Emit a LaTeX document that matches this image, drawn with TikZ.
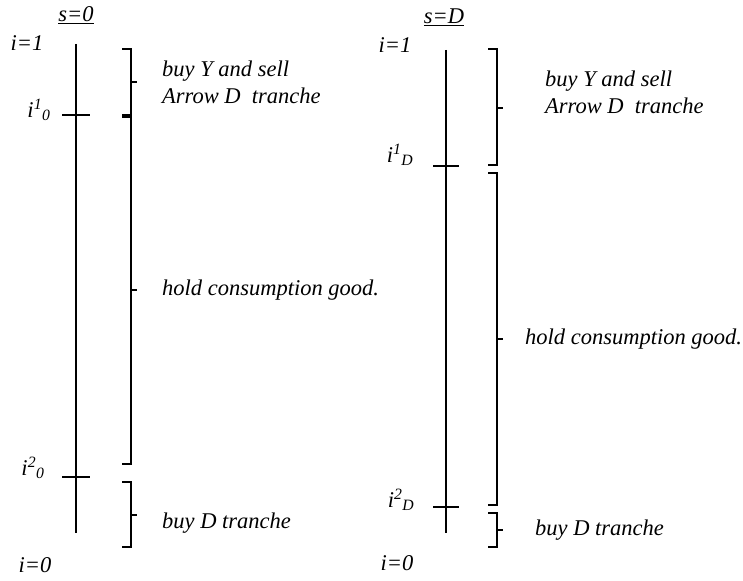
\documentclass[tikz,border=0pt]{standalone}
\usepackage{fontspec}
\setmainfont{Liberation Serif}
\begin{document}
\begin{tikzpicture}[x=1pt,y=-1pt,
  lbl/.style={font=\fontsize{22.5}{27}\selectfont\itshape, inner sep=0pt},
  txt/.style={lbl, anchor=west, align=left},
  axis/.style={line width=2.4pt},
  brk/.style={line width=2.4pt}]
\useasboundingbox (0,0) rectangle (743,580);
% left column
\coordinate (La) at (76,44); \coordinate (Lb) at (76,533);
\draw[axis] (La) -- (Lb);
\coordinate (Lt1a) at (62,115); \coordinate (Lt1b) at (90,115);
\coordinate (Lt2a) at (62,477); \coordinate (Lt2b) at (90,477);
\draw[axis] (Lt1a) -- (Lt1b);
\draw[axis] (Lt2a) -- (Lt2b);
\node[lbl] (s0) at (76,15) {\underline{s=0}};
\node[lbl] (Li1) at (27,43) {i=1};
\node[lbl] (Li10) at (39,110) {i\textsuperscript{1}\textsubscript{0}};
\node[lbl] (Li20) at (33,468) {i\textsuperscript{2}\textsubscript{0}};
\node[lbl] (Li0) at (35,565) {i=0};
% left brackets
\draw[brk] (122,49) -- (131,49) -- (131,115) -- (122,115);
\draw[brk] (131,82) -- (137,82);
\draw[brk] (122,117) -- (131,117) -- (131,464) -- (122,464);
\draw[brk] (131,290) -- (137,290);
\draw[brk] (122,482) -- (131,482) -- (131,547) -- (122,547);
\draw[brk] (131,515) -- (137,515);
\node[txt] (Lt1) at (162,82) {buy Y and sell\\Arrow D\ \ tranche};
\node[txt] (Lt2) at (162,290) {hold consumption good.};
\node[txt] (Lt3) at (162,523) {buy D tranche};
% right column
\coordinate (Ra) at (446,50); \coordinate (Rb) at (446,533);
\draw[axis] (Ra) -- (Rb);
\coordinate (Rt1a) at (433,166); \coordinate (Rt1b) at (459,166);
\coordinate (Rt2a) at (433,507); \coordinate (Rt2b) at (459,507);
\draw[axis] (Rt1a) -- (Rt1b);
\draw[axis] (Rt2a) -- (Rt2b);
\node[lbl] (sD) at (444,17) {\underline{s=D}};
\node[lbl] (Ri1) at (395,45) {i=1};
\node[lbl] (Ri1D) at (400,155) {i\textsuperscript{1}\textsubscript{D}};
\node[lbl] (Ri2D) at (401,500) {i\textsuperscript{2}\textsubscript{D}};
\node[lbl] (Ri0) at (397,563) {i=0};
% right brackets
\draw[brk] (488,49) -- (497,49) -- (497,165) -- (488,165);
\draw[brk] (497,108) -- (503,108);
\draw[brk] (488,173) -- (497,173) -- (497,505) -- (488,505);
\draw[brk] (497,339) -- (503,339);
\draw[brk] (488,513) -- (497,513) -- (497,547) -- (488,547);
\draw[brk] (497,530) -- (503,530);
\node[txt] (Rt1) at (545,92) {buy Y and sell\\Arrow D\ \ tranche};
\node[txt] (Rt2) at (525,339) {hold consumption good.};
\node[txt] (Rt3) at (535,530) {buy D tranche};
\end{tikzpicture}
\end{document}
